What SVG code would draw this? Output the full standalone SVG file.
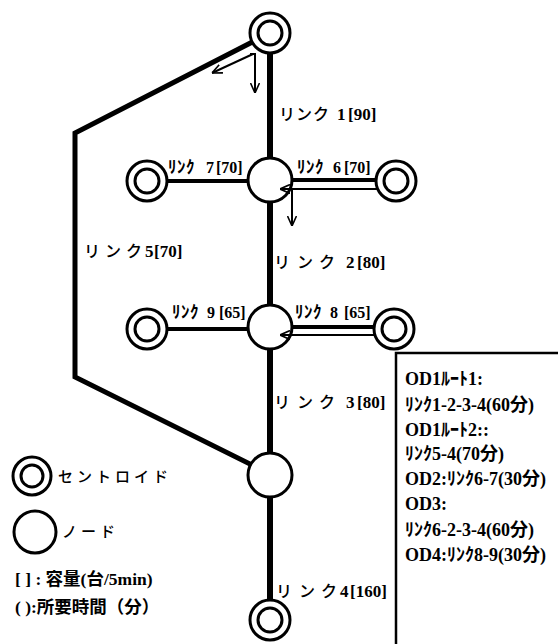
<svg xmlns="http://www.w3.org/2000/svg" width="558" height="644" viewBox="0 0 558 644">
<defs>
<style>
.ln{stroke:#000;fill:none;stroke-linecap:butt;stroke-linejoin:miter}
.nd{fill:#fff;stroke:#000;stroke-width:3}
.fl{stroke:#000;stroke-width:2;fill:none}
text{font-family:"Liberation Serif","Noto Sans CJK JP",serif;fill:#000}
.big{font-size:17px;font-weight:bold}
.kana{font-family:"Noto Sans CJK JP",sans-serif;font-weight:500;font-size:16px}
.skana{font-family:"Noto Sans CJK JP",sans-serif;font-weight:bold;font-size:17px}
.sm{font-size:16px;font-weight:bold}
.box{font-size:18px;font-weight:bold}
.lgt{font-size:17.5px;font-weight:bold}
.lg{font-size:15px;font-family:"Noto Sans CJK JP",sans-serif;font-weight:500;letter-spacing:4px}
</style>
<marker id="arr" viewBox="0 0 10 10" refX="10" refY="5" markerWidth="10" markerHeight="10" markerUnits="userSpaceOnUse" orient="auto">
<path d="M0,0.5 L10,5 L0,9.5" fill="none" stroke="#000" stroke-width="1.6"/>
</marker>
</defs>
<rect width="558" height="644" fill="#fff"/>

<g id="connectors">
<line id="link1" class="ln" x1="270" y1="50" x2="270" y2="165" stroke-width="6"/>
<line id="link2" class="ln" x1="270" y1="195" x2="270" y2="312" stroke-width="6"/>
<line id="link3" class="ln" x1="270" y1="342" x2="270" y2="460" stroke-width="6"/>
<line id="link4" class="ln" x1="270" y1="490" x2="270" y2="605" stroke-width="6"/>
<polyline id="link5" class="ln" points="262,37 75,133 75,377 264,471" stroke-width="5"/>
<line id="link6" class="ln" x1="285" y1="180" x2="380" y2="180" stroke-width="4"/>
<line id="link6b" class="ln" x1="285" y1="189" x2="377" y2="189" stroke-width="2"/>
<line id="link7" class="ln" x1="160" y1="181" x2="255" y2="181" stroke-width="4"/>
<line id="link8" class="ln" x1="285" y1="327" x2="378" y2="327" stroke-width="4"/>
<line id="link8b" class="ln" x1="285" y1="335" x2="376" y2="335" stroke-width="2"/>
<line id="link9" class="ln" x1="160" y1="329" x2="255" y2="329" stroke-width="4"/>
</g>

<g id="c-top"><circle class="nd" cx="270" cy="33" r="20"/><circle class="nd" cx="270" cy="33" r="12"/></g>
<g id="c-bottom"><circle class="nd" cx="270" cy="620" r="20"/><circle class="nd" cx="270" cy="620" r="12"/></g>
<g id="c-l7"><circle class="nd" cx="147" cy="181" r="20"/><circle class="nd" cx="147" cy="181" r="12"/></g>
<g id="c-l9"><circle class="nd" cx="147" cy="329" r="20"/><circle class="nd" cx="147" cy="329" r="12"/></g>
<g id="c-r6"><circle class="nd" cx="396" cy="181" r="20"/><circle class="nd" cx="396" cy="181" r="12"/></g>
<g id="c-r8"><circle class="nd" cx="394" cy="329" r="20"/><circle class="nd" cx="394" cy="329" r="12"/></g>
<g id="n1"><circle class="nd" cx="270" cy="180" r="22"/></g>
<g id="n2"><circle class="nd" cx="270" cy="327" r="22"/></g>
<g id="n3"><circle class="nd" cx="270" cy="475" r="22"/></g>

<g id="flows">
<line class="fl" x1="253" y1="54" x2="212" y2="73" marker-end="url(#arr)"/>
<polyline class="fl" points="250,54 255,54 255,93" marker-end="url(#arr)"/>
<line class="fl" x1="376" y1="189" x2="280" y2="189" marker-end="url(#arr)"/>
<line class="fl" x1="292" y1="189" x2="292" y2="226" marker-end="url(#arr)"/>
<line class="fl" x1="376" y1="335" x2="280" y2="335" marker-end="url(#arr)"/>
</g>

<g id="labels">
<text class="big" y="120"><tspan class="kana" x="279 296 313">リンク</tspan><tspan x="337">1</tspan><tspan x="348">[90]</tspan></text>
<text class="big" y="268"><tspan class="kana" x="274 297 319">リンク</tspan><tspan x="346">2</tspan><tspan x="357">[80]</tspan></text>
<text class="big" y="408"><tspan class="kana" x="274 297 319">リンク</tspan><tspan x="346">3</tspan><tspan x="357">[80]</tspan></text>
<text class="big" y="597"><tspan class="kana" x="276 299 321">リンク</tspan><tspan x="340">4</tspan><tspan x="350">[160]</tspan></text>
<text class="big" y="257"><tspan class="kana" x="84 105 126">リンク</tspan><tspan x="145">5</tspan><tspan x="154">[70]</tspan></text>
<text class="sm" y="173"><tspan class="skana" x="168 177 186">ﾘﾝｸ</tspan><tspan x="206">7</tspan><tspan x="216">[70]</tspan></text>
<text class="sm" y="173"><tspan class="skana" x="297 306 315">ﾘﾝｸ</tspan><tspan x="333">6</tspan><tspan x="344">[70]</tspan></text>
<text class="sm" y="318"><tspan class="skana" x="172 181 190">ﾘﾝｸ</tspan><tspan x="207">9</tspan><tspan x="219">[65]</tspan></text>
<text class="sm" y="318"><tspan class="skana" x="295 304 313">ﾘﾝｸ</tspan><tspan x="330">8</tspan><tspan x="344">[65]</tspan></text>
</g>

<g id="od-box">
<rect x="396" y="353" width="170" height="300" fill="#fff" stroke="#000" stroke-width="2.5"/>
<text class="box" x="405" y="385">OD1ﾙｰﾄ1:</text>
<text class="box" x="405" y="411">ﾘﾝｸ1-2-3-4(60分)</text>
<text class="box" x="405" y="436">OD1ﾙｰﾄ2::</text>
<text class="box" x="405" y="460">ﾘﾝｸ5-4(70分)</text>
<text class="box" x="405" y="485">OD2:ﾘﾝｸ6-7(30分)</text>
<text class="box" x="405" y="510">OD3:</text>
<text class="box" x="405" y="536">ﾘﾝｸ6-2-3-4(60分)</text>
<text class="box" x="405" y="561">OD4:ﾘﾝｸ8-9(30分)</text>
</g>

<g id="legend">
<g id="lg-centroid"><circle class="nd" cx="32" cy="476" r="19"/><circle class="nd" cx="32" cy="476" r="11"/></g>
<text class="lg" x="58" y="482">セントロイド</text>
<g id="lg-node"><circle class="nd" cx="35" cy="532" r="21"/></g>
<text class="lg" x="62" y="537">ノード</text>
<text class="lgt" x="15" y="585">[ ] : 容量(台/5min)</text>
<text class="lgt" x="15" y="613">( ):所要時間（分）</text>
</g>
</svg>
